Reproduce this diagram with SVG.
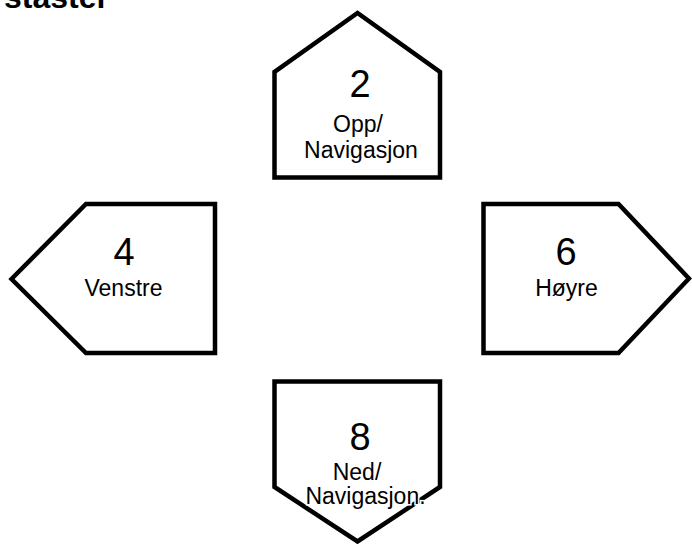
<svg xmlns="http://www.w3.org/2000/svg" width="692" height="544" viewBox="0 0 692 544">
<style>
.shape{fill:#fff;stroke:#000;stroke-width:4.5;stroke-linejoin:miter}
.num{font-family:"Liberation Sans",Arial,sans-serif;font-size:38px;fill:#000;text-anchor:middle}
.lbl{font-family:"Liberation Sans",Arial,sans-serif;font-size:23px;fill:#000;text-anchor:middle}
.title{font-family:"Liberation Sans",Arial,sans-serif;font-size:32px;font-weight:bold;fill:#000}
</style>
<rect width="692" height="544" fill="#fff"/>
<text class="title" x="109" y="8" text-anchor="end">staster</text>
<g id="connectors"></g>
<g id="key2">
<polygon class="shape" points="274.5,177.5 274.5,72 357.5,13 440,72 440,177.5"/>
<text class="num" x="360" y="97">2</text>
<text class="lbl" x="358" y="132">Opp/</text>
<text class="lbl" x="361" y="158">Navigasjon</text>
</g>
<g id="key4">
<polygon class="shape" points="11.5,279 86,204 215,204 215,353 86,353"/>
<text class="num" x="124" y="265">4</text>
<text class="lbl" x="123.5" y="296">Venstre</text>
</g>
<g id="key6">
<polygon class="shape" points="483.5,204 618.5,204 689,278.5 618.5,353 483.5,353"/>
<text class="num" x="566" y="265">6</text>
<text class="lbl" x="566.5" y="296">Høyre</text>
</g>
<g id="key8">
<polygon class="shape" points="274.5,381.5 440,381.5 440,487 357.5,541.5 274.5,487"/>
<text class="num" x="360" y="450">8</text>
<text class="lbl" x="357" y="480">Ned/</text>
<text class="lbl" x="365.5" y="503.5" stroke="#fff" stroke-width="3" paint-order="stroke">Navigasjon.</text>
</g>
</svg>
